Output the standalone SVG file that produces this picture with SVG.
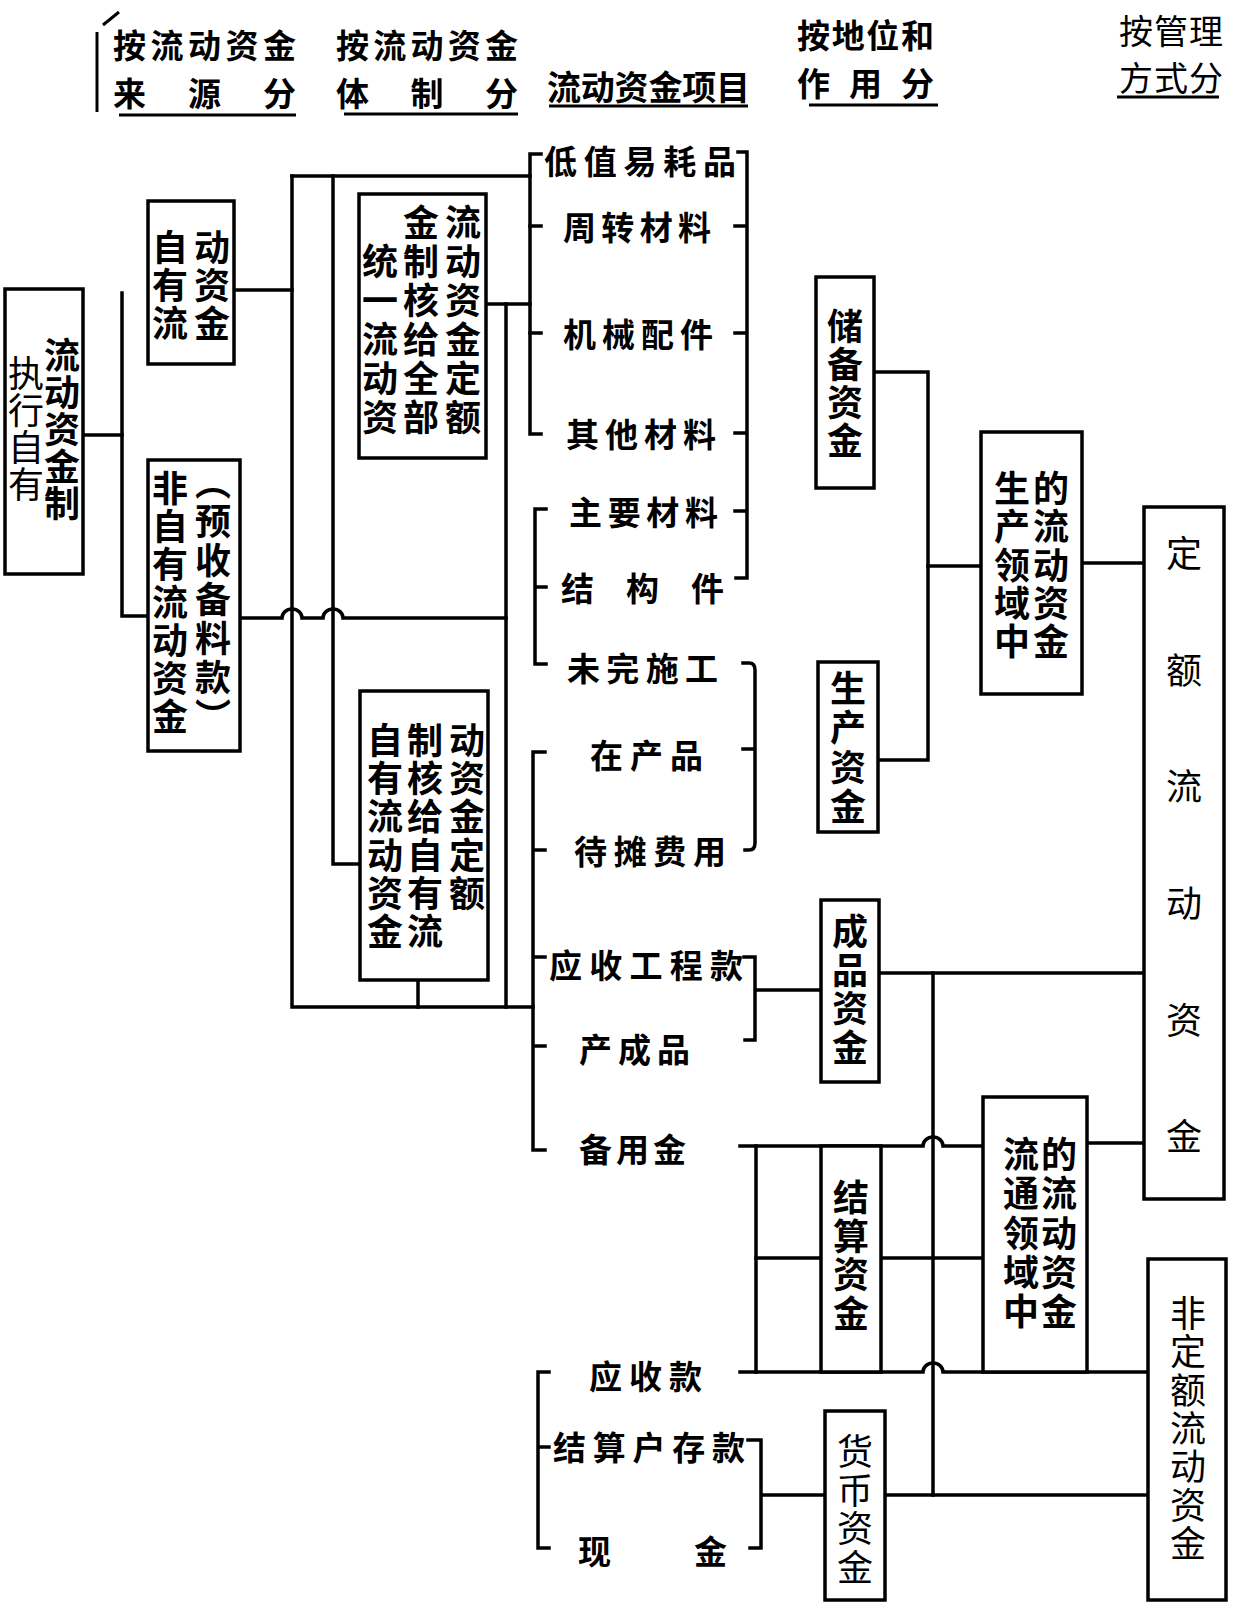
<svg xmlns="http://www.w3.org/2000/svg" width="1236" height="1620" viewBox="0 0 1236 1620">
<style>
.bg{fill:#fff}
.box{fill:#fff;stroke:#000;stroke-width:3.5}
.ln{fill:none;stroke:#000;stroke-width:3.5;stroke-linecap:square;stroke-linejoin:miter}
.ul{fill:none;stroke:#000;stroke-width:3}
.t{font-family:"Noto Sans CJK SC","Noto Sans CJK TC",sans-serif;font-weight:bold;font-size:34px;fill:#000;dominant-baseline:central}
.h{font-size:33px}
.v{font-family:"Noto Sans CJK SC","Noto Sans CJK TC",sans-serif;font-weight:bold;font-size:36px;fill:#000;writing-mode:vertical-rl;text-anchor:start}
.n{font-weight:normal}
.it{font-size:33px}
</style>
<rect class="bg" x="0" y="0" width="1236" height="1620"/>

<g id="headers">
  <line class="ul" x1="97" y1="32" x2="97" y2="112"/>
  <line class="ul" x1="103" y1="25" x2="119" y2="12"/>
  <text class="t h"><tspan x="113" y="44" textLength="183" lengthAdjust="spacing">按流动资金</tspan><tspan x="113" y="92" textLength="183" lengthAdjust="spacing">来 源 分</tspan></text>
  <line class="ul" x1="119" y1="115" x2="296" y2="115"/>
  <text class="t h"><tspan x="336" y="44" textLength="182" lengthAdjust="spacing">按流动资金</tspan><tspan x="336" y="92" textLength="182" lengthAdjust="spacing">体 制 分</tspan></text>
  <line class="ul" x1="344" y1="114" x2="518" y2="114"/>
  <text class="t" x="547" y="85" textLength="203" lengthAdjust="spacing">流动资金项目</text>
  <line class="ul" x1="549" y1="106" x2="748" y2="106"/>
  <text class="t h"><tspan x="797" y="34" textLength="137" lengthAdjust="spacing">按地位和</tspan><tspan x="797" y="82" textLength="137" lengthAdjust="spacing">作 用 分</tspan></text>
  <line class="ul" x1="809" y1="105" x2="938" y2="105"/>
  <text class="t n" font-size="32"><tspan x="1119" y="29" textLength="104" lengthAdjust="spacing">按管理</tspan><tspan x="1119" y="76" textLength="104" lengthAdjust="spacing">方式分</tspan></text>
  <line class="ul" x1="1117" y1="97" x2="1219" y2="97"/>
</g>

<g id="connectors">
  <path class="ln" d="M83,435 H122"/>
  <path class="ln" d="M122,293 V616 H148"/>
  <path class="ln" d="M234,290 H292"/>
  <path class="ln" d="M240,618 H282 A10,9 0 0 1 302,618 H323 A10,9 0 0 1 343,618 H506"/>
  <path class="ln" d="M292,176 H530"/>
  <path class="ln" d="M292,176 V1007 H533"/>
  <path class="ln" d="M333,176 V864 H360"/>
  <path class="ln" d="M486,304 H530"/>
  <path class="ln" d="M506,304 V1007"/>
  <path class="ln" d="M418,980 V1007"/>
  <path class="ln" d="M541,154 H530 V434 H541"/>
  <path class="ln" d="M530,226 H541 M530,333 H541"/>
  <path class="ln" d="M546,509 H535 V664 H546 M535,587 H546"/>
  <path class="ln" d="M545,752 H533 V1150 H545 M533,850 H545 M533,957 H545 M533,1046 H545"/>
  <path class="ln" d="M549,1372 H538 V1548 H549 M538,1447 H549"/>
  <path class="ln" d="M738,152 H747 V578 H736 M735,226 H747 M735,333 H747 M735,433 H747 M735,511 H747"/>
  <path class="ln" d="M743,663 H749 Q755,663 755,670 V843 Q755,850 749,850 H745 M743,749 H755"/>
  <path class="ln" d="M744,957 H755 V1040 H745 M755,990 H821"/>
  <path class="ln" d="M748,1440 H761 V1548 H750 M761,1495 H825"/>
  <path class="ln" d="M874,372 H928 V760 H878"/>
  <path class="ln" d="M928,566 H981"/>
  <path class="ln" d="M1082,563 H1144"/>
  <path class="ln" d="M879,973 H1144"/>
  <path class="ln" d="M933,973 V1495"/>
  <path class="ln" d="M740,1146 H923 A10,9 0 0 1 943,1146 H983"/>
  <path class="ln" d="M740,1372 H923 A10,9 0 0 1 943,1372 H1148"/>
  <path class="ln" d="M756,1146 V1372"/>
  <path class="ln" d="M756,1258 H821 M881,1258 H983"/>
  <path class="ln" d="M1087,1143 H1148"/>
  <path class="ln" d="M885,1495 H1148"/>
</g>

<g id="node-zhixing">
  <rect class="box" x="5" y="289" width="78" height="285"/>
  <text class="v n" font-size="32"><tspan x="26" y="355">执</tspan><tspan x="26" y="392">行</tspan><tspan x="26" y="429">自</tspan><tspan x="26" y="466">有</tspan></text>
  <text class="v" font-size="32"><tspan x="62" y="337">流</tspan><tspan x="62" y="374">动</tspan><tspan x="62" y="411">资</tspan><tspan x="62" y="448">金</tspan><tspan x="62" y="485">制</tspan></text>
</g>

<g id="node-ziyou">
  <rect class="box" x="148" y="201" width="86" height="163"/>
  <text class="v" font-size="34"><tspan x="170" y="229">自</tspan><tspan x="170" y="267">有</tspan><tspan x="170" y="305">流</tspan></text>
  <text class="v" font-size="34"><tspan x="212" y="229">动</tspan><tspan x="212" y="267">资</tspan><tspan x="212" y="305">金</tspan></text>
</g>

<g id="node-feiziyou">
  <rect class="box" x="148" y="460" width="92" height="291"/>
  <text class="v" font-size="34"><tspan x="170" y="470">非</tspan><tspan x="170" y="508">自</tspan><tspan x="170" y="546">有</tspan><tspan x="170" y="584">流</tspan><tspan x="170" y="622">动</tspan><tspan x="170" y="660">资</tspan><tspan x="170" y="698">金</tspan></text>
  <text class="v" font-size="34"><tspan x="213" y="464">（</tspan><tspan x="213" y="503">预</tspan><tspan x="213" y="542">收</tspan><tspan x="213" y="581">备</tspan><tspan x="213" y="620">料</tspan><tspan x="213" y="659">款</tspan><tspan x="213" y="698">）</tspan></text>
</g>

<g id="node-tongyi">
  <rect class="box" x="359" y="194" width="127" height="264"/>
  <text class="v"><tspan x="380" y="243">统</tspan><tspan x="380" y="282">一</tspan><tspan x="380" y="321">流</tspan><tspan x="380" y="360">动</tspan><tspan x="380" y="399">资</tspan></text>
  <text class="v"><tspan x="421" y="204">金</tspan><tspan x="421" y="243">制</tspan><tspan x="421" y="282">核</tspan><tspan x="421" y="321">给</tspan><tspan x="421" y="360">全</tspan><tspan x="421" y="399">部</tspan></text>
  <text class="v"><tspan x="463" y="204">流</tspan><tspan x="463" y="243">动</tspan><tspan x="463" y="282">资</tspan><tspan x="463" y="321">金</tspan><tspan x="463" y="360">定</tspan><tspan x="463" y="399">额</tspan></text>
</g>

<g id="node-ziyouzhi">
  <rect class="box" x="360" y="691" width="128" height="289"/>
  <text class="v"><tspan x="385" y="722">自</tspan><tspan x="385" y="760">有</tspan><tspan x="385" y="798">流</tspan><tspan x="385" y="837">动</tspan><tspan x="385" y="875">资</tspan><tspan x="385" y="913">金</tspan></text>
  <text class="v"><tspan x="425" y="722">制</tspan><tspan x="425" y="760">核</tspan><tspan x="425" y="798">给</tspan><tspan x="425" y="837">自</tspan><tspan x="425" y="875">有</tspan><tspan x="425" y="913">流</tspan></text>
  <text class="v"><tspan x="467" y="722">动</tspan><tspan x="467" y="760">资</tspan><tspan x="467" y="798">金</tspan><tspan x="467" y="837">定</tspan><tspan x="467" y="875">额</tspan></text>
</g>

<g id="items">
  <text class="t it" x="544" y="160" textLength="192" lengthAdjust="spacing">低值易耗品</text>
  <text class="t it" x="563" y="226" textLength="148" lengthAdjust="spacing">周转材料</text>
  <text class="t it" x="563" y="333" textLength="150" lengthAdjust="spacing">机械配件</text>
  <text class="t it" x="566" y="433" textLength="150" lengthAdjust="spacing">其他材料</text>
  <text class="t it" x="569" y="511" textLength="149" lengthAdjust="spacing">主要材料</text>
  <text class="t it" x="561" y="587" textLength="163" lengthAdjust="spacing">结 构 件</text>
  <text class="t it" x="567" y="667" textLength="151" lengthAdjust="spacing">未完施工</text>
  <text class="t it" x="590" y="754" textLength="113" lengthAdjust="spacing">在产品</text>
  <text class="t it" x="574" y="850" textLength="152" lengthAdjust="spacing">待摊费用</text>
  <text class="t it" x="549" y="964" textLength="194" lengthAdjust="spacing">应收工程款</text>
  <text class="t it" x="579" y="1048" textLength="111" lengthAdjust="spacing">产成品</text>
  <text class="t it" x="579" y="1148" textLength="107" lengthAdjust="spacing">备用金</text>
  <text class="t it" x="589" y="1375" textLength="113" lengthAdjust="spacing">应收款</text>
  <text class="t it" x="553" y="1446" textLength="192" lengthAdjust="spacing">结算户存款</text>
  <text class="t it" x="578" y="1550" textLength="149" lengthAdjust="spacing">现 金</text>
</g>

<g id="node-chubei">
  <rect class="box" x="816" y="277" width="58" height="211"/>
  <text class="v"><tspan x="845" y="308">储</tspan><tspan x="845" y="346">备</tspan><tspan x="845" y="384">资</tspan><tspan x="845" y="422">金</tspan></text>
</g>

<g id="node-shengchan">
  <rect class="box" x="818" y="662" width="60" height="170"/>
  <text class="v"><tspan x="848" y="670">生</tspan><tspan x="848" y="709">产</tspan><tspan x="848" y="749">资</tspan><tspan x="848" y="788">金</tspan></text>
</g>

<g id="node-chengpin">
  <rect class="box" x="821" y="900" width="58" height="182"/>
  <text class="v"><tspan x="850" y="913">成</tspan><tspan x="850" y="952">品</tspan><tspan x="850" y="990">资</tspan><tspan x="850" y="1029">金</tspan></text>
</g>

<g id="node-jiesuan">
  <rect class="box" x="821" y="1146" width="60" height="226"/>
  <text class="v"><tspan x="851" y="1179">结</tspan><tspan x="851" y="1218">算</tspan><tspan x="851" y="1256">资</tspan><tspan x="851" y="1295">金</tspan></text>
</g>

<g id="node-huobi">
  <rect class="box" x="825" y="1411" width="60" height="189"/>
  <text class="v n"><tspan x="855" y="1433">货</tspan><tspan x="855" y="1472">币</tspan><tspan x="855" y="1510">资</tspan><tspan x="855" y="1549">金</tspan></text>
</g>

<g id="node-shengchanlingyu">
  <rect class="box" x="981" y="432" width="101" height="262"/>
  <text class="v"><tspan x="1012" y="470">生</tspan><tspan x="1012" y="508">产</tspan><tspan x="1012" y="547">领</tspan><tspan x="1012" y="585">域</tspan><tspan x="1012" y="623">中</tspan></text>
  <text class="v"><tspan x="1051" y="470">的</tspan><tspan x="1051" y="508">流</tspan><tspan x="1051" y="547">动</tspan><tspan x="1051" y="585">资</tspan><tspan x="1051" y="623">金</tspan></text>
</g>

<g id="node-liutonglingyu">
  <rect class="box" x="983" y="1097" width="104" height="275"/>
  <text class="v"><tspan x="1021" y="1136">流</tspan><tspan x="1021" y="1175">通</tspan><tspan x="1021" y="1215">领</tspan><tspan x="1021" y="1254">域</tspan><tspan x="1021" y="1293">中</tspan></text>
  <text class="v"><tspan x="1059" y="1136">的</tspan><tspan x="1059" y="1175">流</tspan><tspan x="1059" y="1215">动</tspan><tspan x="1059" y="1254">资</tspan><tspan x="1059" y="1293">金</tspan></text>
</g>

<g id="node-ding-e">
  <rect class="box" x="1144" y="507" width="80" height="692"/>
  <text class="v n" font-size="33"><tspan x="1184" y="535">定</tspan><tspan x="1184" y="652">额</tspan><tspan x="1184" y="768">流</tspan><tspan x="1184" y="885">动</tspan><tspan x="1184" y="1002">资</tspan><tspan x="1184" y="1118">金</tspan></text>
</g>

<g id="node-feiding-e">
  <rect class="box" x="1148" y="1259" width="78" height="341"/>
  <text class="v n" font-size="34"><tspan x="1188" y="1295">非</tspan><tspan x="1188" y="1333">定</tspan><tspan x="1188" y="1372">额</tspan><tspan x="1188" y="1410">流</tspan><tspan x="1188" y="1448">动</tspan><tspan x="1188" y="1487">资</tspan><tspan x="1188" y="1525">金</tspan></text>
</g>
</svg>
